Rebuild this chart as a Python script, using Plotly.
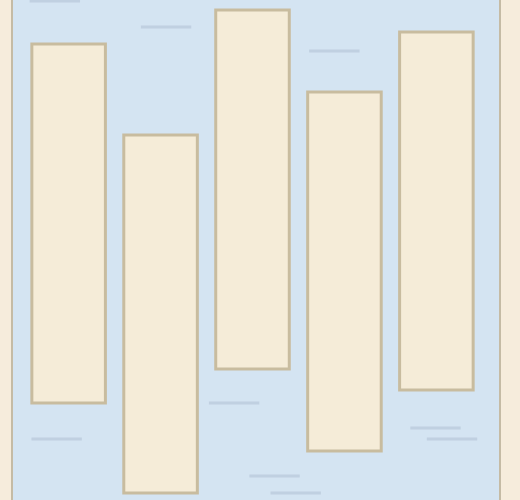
import plotly.graph_objects as go

# floating bars: each one spans from a low to a high value
categories = ["A", "B", "C", "D", "E"]
lows = [19.4, 1.4, 26.2, 9.8, 22.0]
highs = [91.2, 73.0, 98.0, 81.6, 93.6]

# faint tick marks scattered over the plot
mark_x = [-0.15, 1.06, 2.89, -0.13, 1.80, 2.24, 2.47, 3.99, 4.17]
mark_y = [99.8, 94.6, 89.8, 12.2, 19.4, 4.8, 1.4, 14.4, 12.2]

spans = [h - l for h, l in zip(highs, lows)]
xpos = list(range(len(categories)))

fig = go.Figure()
fig.add_trace(go.Bar(
    x=xpos, y=spans, base=lows,
    marker=dict(color="#f5ecd8", line=dict(color="#c8bc9f", width=3)),
    hoverinfo="skip",
))
fig.add_trace(go.Scatter(
    x=mark_x, y=mark_y, mode="markers",
    marker=dict(symbol="line-ew", size=36, color="#b3c3d6",
                line=dict(color="#b3c3d6", width=3)),
    opacity=0.6, hoverinfo="skip", cliponaxis=False,
))

fig.update_layout(
    width=520, height=500,
    margin=dict(l=13, r=21, t=0, b=0),
    paper_bgcolor="#f6ecdc",
    plot_bgcolor="#d4e4f2",
    showlegend=False,
    bargap=0.2,
    xaxis=dict(range=[-0.605, 4.681], showgrid=False, zeroline=False,
               showticklabels=False, ticks=""),
    yaxis=dict(range=[0, 100], showgrid=False, zeroline=False,
               showticklabels=False, ticks="",
               showline=True, mirror=True, linecolor="#c5bba5", linewidth=2),
)

# drop the page margin so the figure sits in the window corner
fig.write_html("out.html", config={"displayModeBar": False},
               post_script="document.body.style.margin='0';")
